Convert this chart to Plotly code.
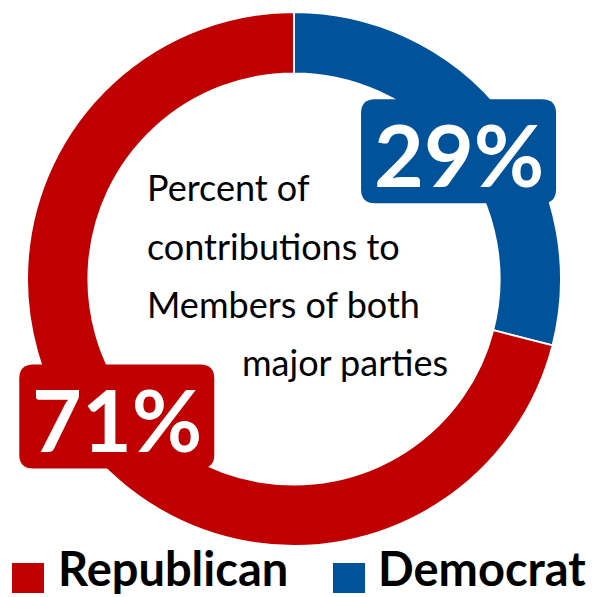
import math
import plotly.graph_objects as go

# ---- data ----
parties = ["Democrat", "Republican"]
shares = [29, 71]
colors = ["#00529B", "#C00000"]
center_lines = ["Percent of", "contributions to", "Members of both", "major parties"]
legend_order = ["Republican", "Democrat"]

W, H = 602, 597
FONT = "Lato"

def px(x):
    return x / W

def py(y):
    return 1 - y / H

# pie domain in pixels
dom_x = (27, 561)
dom_y = (12, 546)
cx = (dom_x[0] + dom_x[1]) / 2
cy = (dom_y[0] + dom_y[1]) / 2
R = (dom_x[1] - dom_x[0]) / 2

fig = go.Figure()
fig.add_trace(go.Pie(
    labels=parties, values=shares, sort=False, direction="clockwise",
    rotation=0, hole=0.77, textinfo="none", hoverinfo="label+percent",
    marker=dict(colors=colors, line=dict(color="white", width=2)),
    domain=dict(x=[px(dom_x[0]), px(dom_x[1])], y=[py(dom_y[1]), py(dom_y[0])]),
    showlegend=False,
))

def rrect(x0, y0, x1, y1, r):
    def P(x, y):
        return f"{px(x):.5f},{py(y):.5f}"
    p = f"M {P(x0 + r, y0)} L {P(x1 - r, y0)} Q {P(x1, y0)} {P(x1, y0 + r)} "
    p += f"L {P(x1, y1 - r)} Q {P(x1, y1)} {P(x1 - r, y1)} "
    p += f"L {P(x0 + r, y1)} Q {P(x0, y1)} {P(x0, y1 - r)} "
    p += f"L {P(x0, y0 + r)} Q {P(x0, y0)} {P(x0 + r, y0)} Z"
    return p

shapes = []
annotations = []
total = sum(shares)
cum = 0
label_r = [0.78, 0.84]
for i, (name, v, c) in enumerate(zip(parties, shares, colors)):
    mid = (cum + v / 2) / total * 2 * math.pi
    cum += v
    r = R * label_r[i]
    bx = cx + r * math.sin(mid)
    by = cy - r * math.cos(mid)
    bw, bh = 195, 104
    shapes.append(dict(type="path", xref="paper", yref="paper",
                       path=rrect(bx - bw / 2, by - bh / 2, bx + bw / 2, by + bh / 2, 14),
                       fillcolor=c, line=dict(width=0), layer="above"))
    annotations.append(dict(x=px(bx), y=py(by + 2), xref="paper", yref="paper",
                            text=f"<b>{v}%</b>", showarrow=False,
                            xanchor="center", yanchor="middle",
                            font=dict(family=FONT, size=86, color="white")))

# center text
line_pos = [(145, 187), (145, 246), (145, 304), (240, 362)]
for t, (x, y) in zip(center_lines, line_pos):
    annotations.append(dict(x=px(x), y=py(y), xref="paper", yref="paper", text=t,
                            showarrow=False, xanchor="left", yanchor="middle",
                            font=dict(family=FONT, size=36, color="black")))

# legend
leg = [(12, 57), (333, 377)]
for name, (sx, tx) in zip(legend_order, leg):
    c = colors[parties.index(name)]
    shapes.append(dict(type="rect", xref="paper", yref="paper",
                       x0=px(sx), x1=px(sx + 32), y0=py(593), y1=py(563),
                       fillcolor=c, line=dict(width=0)))
    annotations.append(dict(x=px(tx), y=0, xref="paper", yref="paper",
                            text=f"<b>{name}</b>", showarrow=False,
                            xanchor="left", yanchor="bottom", borderpad=0,
                            font=dict(family=FONT, size=47, color="black")))

fig.update_layout(
    width=W, height=H, margin=dict(l=0, r=0, t=0, b=0),
    paper_bgcolor="white", plot_bgcolor="white",
    shapes=shapes, annotations=annotations, showlegend=False,
)
fig.write_html("out.html", config={"displayModeBar": False},
               post_script="document.body.style.margin='0';document.body.style.overflow='hidden';")
